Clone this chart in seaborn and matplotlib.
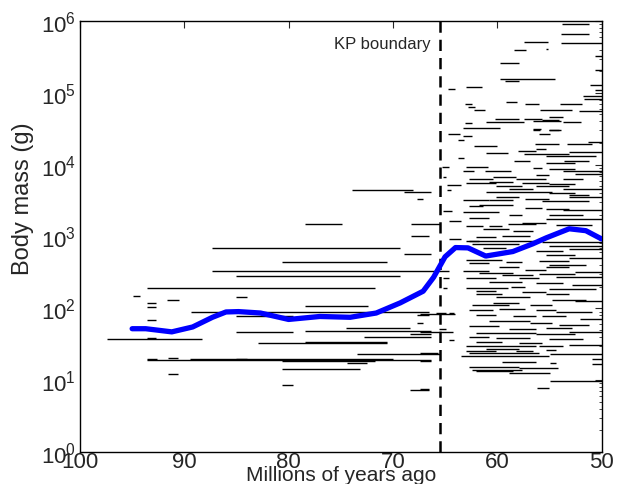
import matplotlib
matplotlib.use("Agg")
import matplotlib.pyplot as plt
import seaborn as sns
import pandas as pd
from matplotlib.ticker import LogLocator, NullFormatter, FixedLocator

sns.set_style("white")
plt.rcParams['font.family'] = ['Liberation Sans', 'DejaVu Sans']

# ---------------- data ----------------
# Pre-KP taxa: first appearance (Ma), last appearance (Ma), body mass (g)
pre_start = [87.3, 87.3, 85.0, 93.6, 94.9, 85.0, 91.7, 93.6, 93.6, 89.4, 85.0, 93.6,
             85.0, 74.5, 78.4, 68.4, 72.8, 97.4, 93.6, 82.9, 78.4, 73.4, 93.6, 89.5,
             80.6, 93.6, 91.6, 85.0, 74.4, 80.6, 91.6, 80.6, 68.4, 73.9, 68.9, 67.7,
             78.4, 68.3, 68.3, 68.9, 80.6, 78.4, 67.7, 67.7, 67.4, 67.4, 67.4, 67.4,
             67.4]
pre_end = [69.3, 64.6, 69.3, 71.7, 94.2, 84.0, 90.5, 92.7, 92.7, 66.5, 79.6, 92.7,
           79.6, 68.4, 66.3, 66.3, 66.3, 88.3, 92.7, 70.6, 70.6, 65.5, 66.3, 70.0,
           71.7, 92.6, 90.6, 84.0, 72.5, 73.2, 90.6, 79.6, 66.5, 68.1, 66.3, 67.1,
           74.9, 65.5, 66.5, 66.3, 70.6, 72.4, 66.5, 67.1, 64.0, 64.2, 65.7, 66.3,
           66.5]
pre_mass = [694, 328, 280, 190, 150, 142, 131, 119, 103, 88.7, 78.6, 68.9,
            46.4, 52.9, 48.8, 44.3, 39.6, 37.4, 38.7, 33.0, 34.4, 23.2, 19.1, 19.6,
            18.6, 19.9, 20.2, 19.9, 17.2, 14.4, 12.3, 8.5, 7.4, 4460, 4180, 3340,
            1470, 1470, 1030, 571, 446, 109, 81.5, 62.2, 82.8, 47.3, 23.9, 18.6,
            7.6]

# Post-KP taxa
post_start = [53.8, 53.9, 57.4, 53.9, 55.3, 58.4, 50.6, 59.7, 50.6, 59.7, 59.3, 51.1,
              64.7, 63.0, 50.6, 51.8, 51.7, 59.2, 57.3, 54.0, 63.1, 62.8, 62.2, 55.9,
              52.2, 55.0, 60.2, 57.4, 55.7, 61.1, 56.6, 53.7, 63.1, 63.3, 56.6, 55.0,
              56.6, 55.0, 64.7, 63.3, 56.0, 63.8, 56.4, 53.3, 51.3, 62.2, 58.0, 56.3,
              61.1, 57.4, 55.3, 53.1, 63.8, 53.6, 58.4, 55.3, 63.0, 65.3, 56.6, 55.0,
              53.7, 63.3, 61.2, 56.3, 52.5, 60.4, 65.2, 62.7, 58.2, 53.7, 60.8, 63.0,
              57.6, 55.0, 64.8, 60.1, 56.3, 53.7, 58.9, 64.8, 61.1, 55.0, 53.1, 63.3,
              60.1, 60.8, 57.3, 55.7, 53.1, 61.7, 62.7, 57.3, 55.3, 53.7, 65.2, 63.3,
              55.0, 58.9, 62.7, 64.6, 55.3, 59.0, 57.6, 63.0, 60.8, 54.4, 61.4, 58.5,
              64.6, 62.0, 59.5, 62.7,
              63.0, 62.4, 55.7, 55.0, 61.4, 56.3, 53.1, 55.3, 63.0, 62.7, 59.2, 56.0,
              53.1, 55.0, 55.3, 63.3, 59.8, 57.3, 61.7, 59.5, 56.0, 52.5, 63.0, 57.9,
              54.4, 65.2, 60.8, 56.3, 52.8, 63.0, 58.7, 55.0, 62.0, 57.6, 65.2, 62.0,
              55.3, 60.1, 54.7, 52.5, 60.4, 62.4, 56.9, 62.7, 59.8, 56.3, 54.4, 65.9,
              64.6, 62.0, 58.5, 55.7, 52.1, 60.8, 56.9, 54.1, 62.7, 65.6, 58.9, 55.3,
              62.0, 56.3, 53.1, 62.7, 60.1, 55.0, 64.6, 62.0, 57.9, 63.0, 56.0, 53.1,
              61.1,
              63.0, 58.2, 55.3, 62.7, 63.5, 54.9, 59.5, 54.9, 62.7, 62.4, 62.0, 57.9,
              58.9, 50.9, 50.9, 54.9, 56.2]
post_end = [51.2, 51.2, 55.1, 50.0, 55.1, 57.2, 50.0, 57.9, 50.0, 54.5, 57.9, 50.0,
            64.0, 61.5, 50.0, 50.0, 50.0, 58.1, 56.0, 51.9, 62.4, 62.1, 61.2, 52.8,
            50.0, 53.7, 57.9, 55.7, 54.1, 57.4, 53.9, 52.0, 62.4, 59.7, 55.8, 53.9,
            55.9, 54.1, 63.6, 62.4, 54.9, 63.2, 54.1, 50.9, 50.0, 60.0, 56.3, 55.3,
            59.0, 53.1, 50.5, 50.0, 63.2, 51.2, 56.9, 52.5, 60.9, 64.6, 55.7, 52.5,
            50.0, 62.2, 58.7, 55.0, 50.0, 58.2, 64.9, 60.4, 55.3, 51.8, 58.5, 60.1,
            55.0, 52.5, 63.5, 57.6, 53.1, 50.0, 56.6, 64.4, 54.7, 52.5, 51.2, 60.8,
            57.9, 58.5, 55.0, 51.2, 50.0, 58.5, 61.4, 55.7, 53.1, 50.0, 64.3, 59.8,
            51.8, 57.6, 60.8, 63.5, 50.0, 56.3, 55.3, 61.4, 59.5, 50.9, 58.9, 56.6,
            63.5, 60.1, 56.9, 61.7,
            56.3, 57.9, 50.0, 50.0, 59.2, 53.7, 50.0, 52.5, 59.5, 60.8, 57.6, 53.1,
            50.0, 51.5, 53.1, 60.8, 57.9, 55.3, 58.5, 56.6, 52.5, 50.0, 60.1, 56.0,
            50.0, 64.6, 57.6, 53.7, 50.0, 59.0, 57.3, 50.5, 60.1, 55.3, 64.8, 59.5,
            53.1, 56.9, 51.5, 50.0, 57.9, 58.9, 54.7, 60.4, 57.3, 54.4, 50.9, 64.9,
            64.1, 60.1, 56.3, 53.4, 50.0, 56.9, 54.7, 51.2, 59.8, 64.9, 56.3, 52.8,
            56.3, 52.5, 50.0, 60.8, 56.9, 51.8, 64.1, 59.5, 55.7, 56.3, 53.7, 50.0,
            57.9,
            60.1, 56.6, 54.4, 56.0, 55.0, 50.0, 56.3, 54.4, 57.9, 57.6, 58.5, 54.2,
            54.9, 50.0, 50.0, 50.0, 55.0]
post_mass = [914000, 662000, 508000, 486000, 404000, 393000, 321000, 256000, 205000, 155000, 145000, 130000,
             113000, 121000, 111000, 89000, 82000, 75500, 70000, 70000, 70000, 62800, 58500, 58500,
             55200, 45500, 43400, 43400, 42300, 39000, 40100, 39000, 37900, 32400, 31300, 30800,
             30800, 30800, 26800, 24900, 26800, 21700, 19500, 19500, 20600, 17900, 15700, 16300,
             14400, 14100, 13400, 14900, 12400, 11400, 11400, 10600, 9200, 9200, 8970, 8740,
             8270, 8150, 8030, 7200, 7440, 6730, 6730, 6370, 6370, 6370, 5780, 5540,
             5540, 5420, 5240, 5060, 5060, 4570, 4510, 4390, 4210, 4080, 3840, 3270,
             3520, 3270, 3350, 3070, 3520, 2750, 2640, 2480, 2420, 2300, 2230, 2180,
             2000, 2000, 1800, 1660, 1750, 1500, 1550, 1380, 1380, 1450, 1280, 1210,
             925, 977, 1030, 879,
             879, 788, 849, 746, 687, 637, 671, 554, 477, 429, 448, 462,
             498, 402, 373, 335, 373, 347, 311, 292, 301, 318, 262, 262,
             272, 262, 235, 225, 211, 190, 196, 186, 176, 168, 190, 159,
             159, 142, 132, 128, 119, 112, 112, 96, 97.5, 96, 90, 85.9,
             85.9, 81.5, 79.3, 77.1, 71.2, 67.6, 62.2, 58.7, 57.5, 51.6, 51.6, 52.7,
             45.5, 44.0, 46.4, 39.4, 38.2, 37.4, 36.2, 33.7, 33.0, 29.7, 30.3, 30.9,
             27.2,
             25.8, 25.8, 26.2, 23.9, 21.9, 22.9, 17.7, 17.4, 15.1, 14.0, 13.2, 15.0,
             12.4, 19.7, 16.7, 9.7, 7.7]

# Smoothed mean body mass trend
trend_age = [95.0, 93.7, 91.2, 89.2, 87.3, 86.0, 84.8, 82.7, 80.0, 77.0, 74.1, 71.6,
             69.3, 67.1, 66.1, 65.0, 64.0, 62.8, 61.1, 58.5, 56.6, 55.3, 53.1, 51.5, 50.0]
trend_mass = [52, 52, 47, 55, 75, 89, 90, 86, 70, 77, 75, 86,
              119, 173, 270, 521, 701, 694, 534, 617, 789, 957, 1280, 1204, 925]

kp_age = 65.5

# ---------------- plot ----------------
fig = plt.figure(figsize=(6.25, 4.85), dpi=100)
ax = fig.add_axes([0.128, 0.066, 0.8344, 0.8887])

ax.hlines(pre_mass, pre_start, pre_end, colors='black', linewidth=1.0, zorder=2)
ax.hlines(post_mass, post_start, post_end, colors='black', linewidth=1.0, zorder=2)

ax.axvline(kp_age, color='black', linestyle=(0, (4.5, 2.8)), linewidth=1.8, zorder=3)

trend = pd.DataFrame({'age': trend_age, 'mass': trend_mass})
sns.lineplot(data=trend, x='age', y='mass', color='#0000ff', linewidth=3.8,
             ax=ax, zorder=4, sort=True)

ax.text(66.4, 10**5.68, 'KP boundary', ha='right', va='center', fontsize=12)

ax.set_yscale('log')
ax.set_xlim(100, 50)
ax.set_ylim(1, 1e6)
ax.xaxis.set_major_locator(FixedLocator([100, 90, 80, 70, 60, 50]))
ax.yaxis.set_major_locator(LogLocator(base=10, numticks=10))
ax.yaxis.set_minor_locator(LogLocator(base=10, subs=range(2, 10), numticks=20))
ax.yaxis.set_minor_formatter(NullFormatter())

ax.tick_params(which='both', direction='in', top=True, right=True, labelsize=16)
ax.tick_params(which='major', length=5, width=0.8)
ax.tick_params(which='minor', length=2.5, width=0.6)
ax.tick_params(axis='x', which='major', pad=-0.5)
ax.tick_params(axis='y', which='major', pad=3)
ax.tick_params(axis='x', which='minor', bottom=False, top=False)

for s in ax.spines.values():
    s.set_linewidth(1.0)
    s.set_color('black')

ax.set_xlabel('Millions of years ago', fontsize=15)
ax.xaxis.set_label_coords(0.5, -0.030)
ax.set_ylabel('Body mass (g)', fontsize=17)
ax.yaxis.set_label_coords(-0.089, 0.59)

fig.savefig('out.png', dpi=100)
